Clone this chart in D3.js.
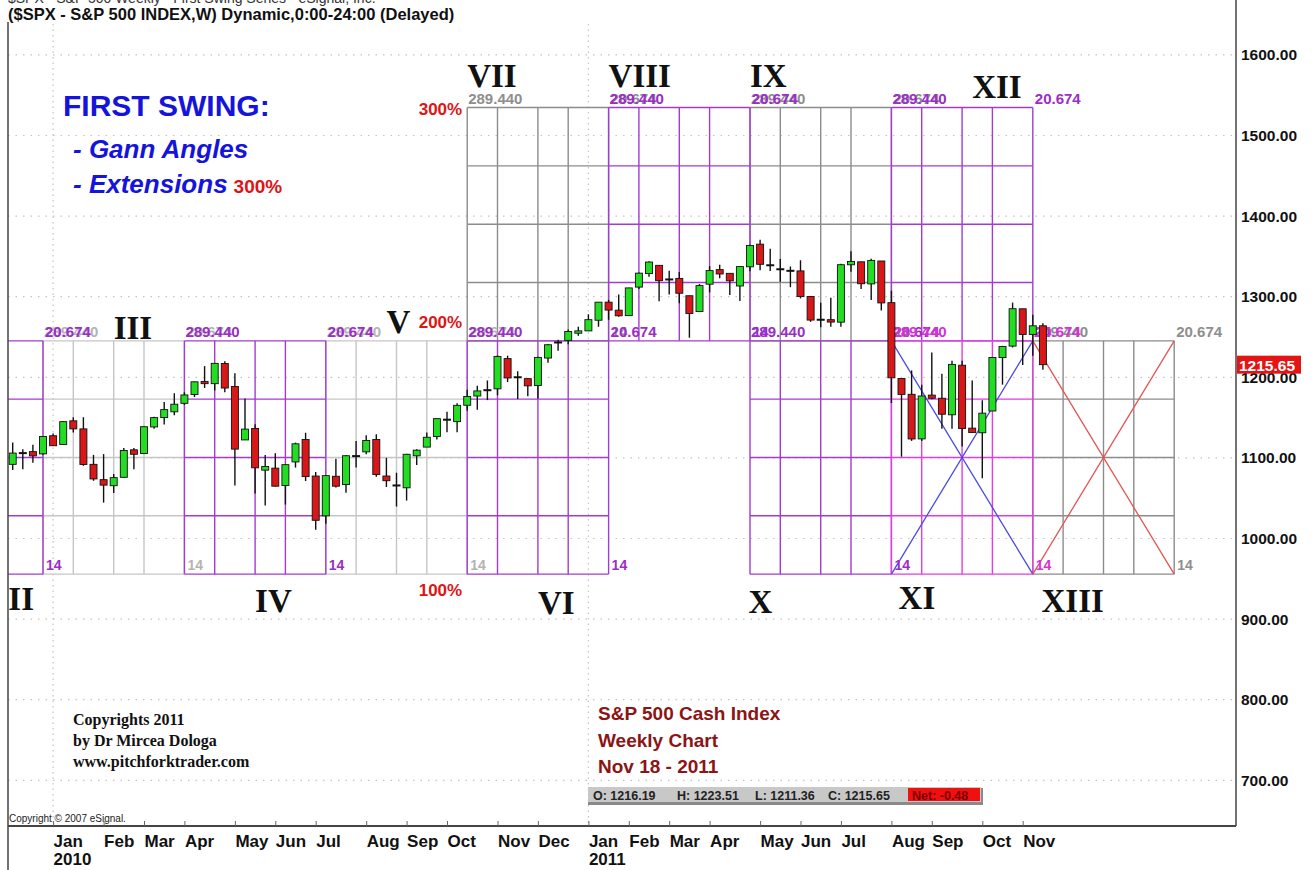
<!DOCTYPE html>
<html>
<head>
<meta charset="utf-8">
<title>S&amp;P 500 Weekly - First Swing</title>
<script src="https://cdnjs.cloudflare.com/ajax/libs/d3/7.8.5/d3.min.js"></script>
<style>
  html, body { margin: 0; padding: 0; background: #fff; }
  svg { display: block; }
  text { font-family: "Liberation Sans", Arial, sans-serif; }
  .serif { font-family: "Liberation Serif", "Times New Roman", serif; }
</style>
</head>
<body>
<svg id="chart" width="1313" height="870"></svg>
<script>
// --- DATA (weekly bars, dated by the Friday of each week) ---
const firstWeek = "2009-12-04";

const opens = [
  1092.0, 1105.5, 1107.8, 1105.0, 1127.5, 1116.6, 1146.0, 1136.0, 1092.0, 1073.0,
  1065.5, 1075.9, 1110.0, 1105.4, 1138.4, 1150.0, 1157.2, 1167.7, 1178.7, 1194.9,
  1192.1, 1217.1, 1188.6, 1122.3, 1136.5, 1084.8, 1087.3, 1065.8, 1095.0, 1122.8,
  1077.5, 1028.1, 1077.2, 1066.9, 1102.9, 1107.5, 1122.8, 1077.5, 1067.0, 1062.9,
  1102.6, 1113.4, 1126.6, 1148.6, 1145.0, 1165.3, 1176.8, 1184.7, 1185.7, 1223.2,
  1200.4, 1198.3, 1189.8, 1223.9, 1242.5, 1245.8, 1254.7, 1257.6, 1270.8, 1293.2,
  1283.3, 1276.5, 1311.9, 1328.7, 1338.9, 1321.6, 1322.7, 1301.2, 1281.7, 1315.5,
  1333.6, 1329.0, 1313.3, 1337.1, 1365.2, 1340.2, 1334.8, 1333.1, 1332.0, 1300.3,
  1271.3, 1271.5, 1268.4, 1339.6, 1343.3, 1315.9, 1344.3, 1292.6, 1198.5, 1178.9,
  1123.6, 1177.9, 1174.0, 1153.5, 1215.0, 1136.9, 1131.2, 1158.2, 1224.5, 1238.7,
  1285.0, 1253.2, 1263.9
];
const highs = [
  1119.1, 1110.7, 1116.2, 1126.5, 1130.4, 1145.4, 1150.4, 1150.5, 1103.7, 1104.7,
  1080.0, 1112.4, 1112.3, 1139.0, 1151.0, 1169.3, 1180.2, 1181.4, 1194.7, 1213.9,
  1217.3, 1219.8, 1205.1, 1173.6, 1141.9, 1103.5, 1105.7, 1092.0, 1119.0, 1131.2,
  1082.6, 1078.0, 1099.1, 1103.7, 1120.9, 1128.0, 1129.2, 1100.1, 1081.6, 1105.1,
  1110.6, 1131.5, 1148.9, 1157.2, 1167.7, 1184.4, 1189.4, 1196.1, 1227.1, 1226.8,
  1207.4, 1198.7, 1225.6, 1241.0, 1246.7, 1259.4, 1262.6, 1278.2, 1293.2, 1296.1,
  1302.7, 1311.0, 1330.0, 1344.1, 1338.9, 1332.3, 1330.6, 1301.2, 1315.8, 1337.9,
  1339.5, 1329.0, 1337.5, 1364.6, 1370.6, 1359.4, 1346.8, 1337.5, 1345.2, 1300.3,
  1292.5, 1298.6, 1341.0, 1356.5, 1343.3, 1347.0, 1344.3, 1307.4, 1198.5, 1208.5,
  1190.7, 1230.7, 1204.4, 1220.4, 1220.4, 1195.9, 1171.4, 1224.6, 1239.0, 1292.7,
  1285.0, 1277.6, 1267.0
];
const lows = [
  1085.0, 1085.9, 1093.9, 1104.0, 1114.8, 1116.6, 1131.4, 1090.2, 1071.6, 1044.5,
  1056.5, 1075.6, 1086.0, 1105.4, 1136.2, 1141.5, 1152.9, 1165.8, 1175.5, 1186.8,
  1183.5, 1181.6, 1065.8, 1122.3, 1055.9, 1040.8, 1064.5, 1042.2, 1088.0, 1071.3,
  1010.9, 1018.4, 1063.3, 1056.9, 1088.0, 1104.6, 1076.6, 1063.9, 1039.7, 1047.1,
  1091.2, 1113.4, 1122.8, 1131.9, 1131.9, 1158.4, 1159.7, 1171.7, 1177.7, 1194.1,
  1173.0, 1176.5, 1173.6, 1217.9, 1232.8, 1240.9, 1251.5, 1257.6, 1262.7, 1271.3,
  1275.1, 1276.5, 1309.4, 1324.6, 1294.3, 1302.6, 1292.0, 1249.1, 1281.7, 1305.3,
  1322.9, 1302.0, 1294.7, 1331.5, 1332.7, 1332.0, 1318.5, 1311.8, 1297.9, 1268.8,
  1262.0, 1262.7, 1262.7, 1331.0, 1309.7, 1295.9, 1282.9, 1168.1, 1101.5, 1121.1,
  1121.1, 1172.8, 1136.1, 1136.2, 1114.2, 1131.1, 1074.8, 1158.2, 1190.9, 1237.0,
  1215.4, 1226.6, 1209.4
];
const closes = [
  1106.0, 1106.4, 1102.5, 1126.5, 1115.1, 1145.0, 1136.0, 1091.8, 1073.9, 1066.2,
  1075.5, 1109.2, 1104.5, 1138.7, 1150.0, 1159.9, 1166.6, 1178.1, 1194.4, 1192.1,
  1217.3, 1186.7, 1110.9, 1135.7, 1087.7, 1089.4, 1064.9, 1091.6, 1117.5, 1076.8,
  1022.6, 1078.0, 1064.9, 1102.7, 1101.6, 1121.6, 1079.3, 1071.7, 1064.6, 1104.5,
  1109.6, 1125.6, 1148.7, 1146.2, 1165.2, 1176.2, 1183.1, 1183.3, 1225.9, 1199.2,
  1199.7, 1189.4, 1224.7, 1240.4, 1243.9, 1256.8, 1257.6, 1271.5, 1293.2, 1283.4,
  1276.3, 1310.9, 1329.2, 1343.0, 1319.9, 1321.2, 1304.3, 1279.2, 1313.8, 1332.4,
  1328.2, 1319.7, 1337.4, 1363.6, 1340.2, 1337.8, 1333.3, 1331.1, 1300.2, 1271.0,
  1271.5, 1268.5, 1339.7, 1343.8, 1316.1, 1345.0, 1292.3, 1199.4, 1178.8, 1123.5,
  1176.8, 1174.0, 1154.2, 1216.0, 1136.4, 1131.4, 1155.5, 1224.6, 1238.3, 1285.1,
  1253.2, 1263.9, 1215.65
];

const priceTicks = [700, 800, 900, 1000, 1100, 1200, 1300, 1400, 1500, 1600];
const lastPrice = 1215.65;
const lastDay = { O: "1216.19", H: "1223.51", L: "1211.36", C: "1215.65", Net: "-0.48" };

// first swing: price range and time span of one Gann box
const swingLow = 955.80;
const swingRange = 289.44;
const swingBars = 14;
const timeDivisions = [0, 3, 7, 10, 14];
const priceDivisions = [0, 0.25, 0.5, 0.75, 1];

// boxes: start bar, level (0 = 100-200%, 1 = 200-300%), tone
const gannBoxes = [
  { start: 3,   level: 0, tone: "light" },
  { start: 31,  level: 0, tone: "light" },
  { start: 101, level: 0, tone: "gray" },
  { start: 45,  level: 1, tone: "gray" },
  { start: 73,  level: 1, tone: "gray" },
  { start: -11, level: 0, tone: "purple" },
  { start: 17,  level: 0, tone: "purple" },
  { start: 45,  level: 0, tone: "purple" },
  { start: 73,  level: 0, tone: "purple" },
  { start: 59,  level: 1, tone: "purple" },
  { start: 87,  level: 1, tone: "purple" },
  { start: 87,  level: 0, tone: "magenta" }
];
const fanBoxes = [
  { start: 87,  level: 0, tone: "blue" },
  { start: 101, level: 0, tone: "red" }
];

// wave count, anchored on bar index and price
const romanLabels = [
  { text: "II",   bar: -0.3, price: 911 },
  { text: "III",  bar: 10.0, price: 1247 },
  { text: "IV",   bar: 24.0, price: 909 },
  { text: "V",    bar: 37.0, price: 1255 },
  { text: "VI",   bar: 52.0, price: 906 },
  { text: "VII",  bar: 45.1, price: 1560 },
  { text: "VIII", bar: 59.0, price: 1560 },
  { text: "IX",   bar: 73.0, price: 1560 },
  { text: "X",    bar: 72.9, price: 908 },
  { text: "XI",   bar: 87.8, price: 912 },
  { text: "XII",  bar: 95.0, price: 1546 },
  { text: "XIII", bar: 101.9, price: 909 }
];
const extensionLabels = ["100%", "200%", "300%"];

// --- STYLE ---
const lineColors = { light: "#c6c6c6", gray: "#8c8c8c", purple: "#a23cd0", magenta: "#e03ee0", blue: "#4b4be3", red: "#e45555" };
const textColors = { light: "#b4b4b4", gray: "#8e8e8e", purple: "#9a2ec6", magenta: "#d633d6" };
const plot = { left: 8, right: 1236, top: 24, bottom: 826 };

// --- SCALES ---
const svg = d3.select("#chart");
const start = new Date(firstWeek + "T00:00:00Z");
const barDate = i => d3.utcDay.offset(start, 7 * i);
const dates = closes.map((_, i) => barDate(i));

const x = d3.scaleUtc()
  .domain([dates[0], dates[dates.length - 1]])
  .range([12.7, 12.7 + 10.1 * (dates.length - 1)]);
const y = d3.scaleLinear().domain([700, 1600]).range([780.3, 54.9]);
const xb = i => x(barDate(i));

svg.append("defs").append("clipPath").attr("id", "clip")
  .append("rect")
  .attr("x", plot.left).attr("y", plot.top)
  .attr("width", plot.right - plot.left).attr("height", plot.bottom - plot.top);

const g = svg.append("g").attr("clip-path", "url(#clip)");

// --- GRID ---
g.selectAll(".hgrid").data(priceTicks).join("line")
  .attr("class", "hgrid")
  .attr("x1", plot.left).attr("x2", plot.right)
  .attr("y1", d => y(d)).attr("y2", d => y(d))
  .attr("stroke", "#c4c4c4").attr("stroke-width", 1.2)
  .attr("stroke-dasharray", "1.5,6");

const monthStarts = dates.filter((d, i) => i > 0 && d.getUTCMonth() !== dates[i - 1].getUTCMonth());
const yearStarts = monthStarts.filter(d => d.getUTCMonth() === 0);

g.selectAll(".vgrid").data(yearStarts).join("line")
  .attr("class", "vgrid")
  .attr("x1", d => x(d)).attr("x2", d => x(d))
  .attr("y1", plot.top).attr("y2", plot.bottom)
  .attr("stroke", "#c4c4c4").attr("stroke-width", 1.2)
  .attr("stroke-dasharray", "1.5,4");

// --- GANN BOXES ---
const fmt3 = d3.format(".3f");

function boxGeom(b) {
  const p0 = swingLow + b.level * swingRange;
  return { x0: xb(b.start), x1: xb(b.start + swingBars), p0: p0, yTop: y(p0 + swingRange), yBot: y(p0) };
}

gannBoxes.forEach(b => {
  const bx = boxGeom(b);
  const col = lineColors[b.tone];
  const bg = g.append("g");
  bg.selectAll("line.v").data(timeDivisions).join("line")
    .attr("x1", k => xb(b.start + k)).attr("x2", k => xb(b.start + k))
    .attr("y1", bx.yTop).attr("y2", bx.yBot)
    .attr("stroke", col).attr("stroke-width", 1.4);
  bg.selectAll("line.h").data(priceDivisions).join("line")
    .attr("x1", bx.x0).attr("x2", bx.x1)
    .attr("y1", f => y(bx.p0 + f * swingRange)).attr("y2", f => y(bx.p0 + f * swingRange))
    .attr("stroke", col).attr("stroke-width", 1.4);
});

fanBoxes.forEach(b => {
  const bx = boxGeom(b);
  g.append("path")
    .attr("d", `M${bx.x0},${bx.yTop}L${bx.x1},${bx.yBot}M${bx.x0},${bx.yBot}L${bx.x1},${bx.yTop}`)
    .attr("stroke", lineColors[b.tone]).attr("stroke-width", 1.3).attr("fill", "none");
});

// box labels: range at top-left, range per bar at top-right, bar count at bottom-right
gannBoxes.forEach(b => {
  const bx = boxGeom(b);
  const col = textColors[b.tone];
  const lg = g.append("g").attr("fill", col).style("font-weight", "bold");
  if (bx.x0 >= plot.left) {
    lg.append("text").attr("x", bx.x0 + 1).attr("y", bx.yTop - 4).style("font-size", "15px").text(fmt3(swingRange));
  }
  lg.append("text").attr("x", bx.x1 + 2).attr("y", bx.yTop - 4).style("font-size", "15px").text(fmt3(swingRange / swingBars));
  lg.append("text").attr("x", bx.x1 + 3).attr("y", bx.yBot - 4).style("font-size", "14px").text(swingBars);
});

// --- CANDLES ---
const bars = dates.map((d, i) => ({ d, o: opens[i], h: highs[i], l: lows[i], c: closes[i] }));
const cg = g.append("g");
cg.selectAll("line.wick").data(bars).join("line")
  .attr("class", "wick")
  .attr("x1", d => x(d.d)).attr("x2", d => x(d.d))
  .attr("y1", d => y(d.h)).attr("y2", d => y(d.l))
  .attr("stroke", "#111").attr("stroke-width", 1.4);

const isDoji = d => Math.abs(y(d.o) - y(d.c)) < 2;
cg.selectAll("rect.body").data(bars.filter(d => !isDoji(d))).join("rect")
  .attr("class", "body")
  .attr("x", d => x(d.d) - 3.5).attr("width", 7)
  .attr("y", d => y(Math.max(d.o, d.c)))
  .attr("height", d => Math.abs(y(d.o) - y(d.c)))
  .attr("fill", d => d.c >= d.o ? "#22dd22" : "#d81818")
  .attr("stroke", "#111").attr("stroke-width", 0.9);
cg.selectAll("line.doji").data(bars.filter(isDoji)).join("line")
  .attr("class", "doji")
  .attr("x1", d => x(d.d) - 4).attr("x2", d => x(d.d) + 4)
  .attr("y1", d => y((d.o + d.c) / 2)).attr("y2", d => y((d.o + d.c) / 2))
  .attr("stroke", "#111").attr("stroke-width", 2);

// --- ANNOTATIONS ---
svg.selectAll("text.roman").data(romanLabels).join("text")
  .attr("class", "roman serif")
  .attr("x", d => xb(d.bar)).attr("y", d => y(d.price))
  .style("font-size", "33px").style("font-weight", "bold").attr("fill", "#111")
  .text(d => d.text);

svg.selectAll("text.ext").data(extensionLabels).join("text")
  .attr("class", "ext")
  .attr("x", xb(45) - 5)
  .attr("y", (d, i) => y(swingLow + i * swingRange) + (i === 0 ? 22 : i === 1 ? -13 : 7))
  .attr("text-anchor", "end")
  .style("font-size", "17px").style("font-weight", "bold").attr("fill", "#e01414")
  .text(d => d);

svg.append("text").attr("x", 63).attr("y", 116)
  .style("font-size", "30px").style("font-weight", "bold").attr("fill", "#1414dc")
  .text("FIRST SWING:");
svg.append("text").attr("x", 73).attr("y", 158)
  .style("font-size", "26px").style("font-weight", "bold").style("font-style", "italic").attr("fill", "#1414dc")
  .text("- Gann Angles");
const ext = svg.append("text").attr("x", 73).attr("y", 193)
  .style("font-weight", "bold");
ext.append("tspan").style("font-size", "26px").style("font-style", "italic").attr("fill", "#1414dc").text("- Extensions");
ext.append("tspan").attr("dx", 6).style("font-size", "19px").attr("fill", "#e01414").text("300%");

const copy = svg.append("text").attr("class", "serif")
  .style("font-size", "16px").style("font-weight", "bold").attr("fill", "#111");
["Copyrights 2011", "by Dr Mircea Dologa", "www.pitchforktrader.com"].forEach((t, i) => {
  copy.append("tspan").attr("x", 73).attr("y", 725 + i * 21).text(t);
});

const note = svg.append("text")
  .style("font-size", "19px").style("font-weight", "bold").attr("fill", "#8c1414");
["S&P 500 Cash Index", "Weekly Chart", "Nov 18 - 2011"].forEach((t, i) => {
  note.append("tspan").attr("x", 598).attr("y", 720 + i * 26.5).text(t);
});

// OHLC strip
const strip = svg.append("g");
strip.append("rect").attr("x", 588).attr("y", 788).attr("width", 395).attr("height", 17).attr("fill", "#8a8a8a");
strip.append("rect").attr("x", 588).attr("y", 787).attr("width", 393).attr("height", 15).attr("fill", "#c8c8c8");
strip.append("rect").attr("x", 908).attr("y", 788).attr("width", 72).attr("height", 13).attr("fill", "#f01010");
[["O: " + lastDay.O, 593], ["H: " + lastDay.H, 677], ["L: " + lastDay.L, 755], ["C: " + lastDay.C, 828]].forEach(([t, px]) => {
  strip.append("text").attr("x", px).attr("y", 800).style("font-size", "12.5px").style("font-weight", "bold").attr("fill", "#222").text(t);
});
strip.append("text").attr("x", 912).attr("y", 800).style("font-size", "12.5px").style("font-weight", "bold").attr("fill", "#7a0000").text("Net: " + lastDay.Net);

svg.append("text").attr("x", 9).attr("y", 822).style("font-size", "10px").attr("fill", "#222")
  .text("Copyright \u00a9 2007 eSignal.");

// --- AXES ---
svg.append("line").attr("x1", plot.left).attr("x2", plot.left).attr("y1", 22).attr("y2", 870)
  .attr("stroke", "#444").attr("stroke-width", 1.5);
svg.append("line").attr("x1", plot.right).attr("x2", plot.right).attr("y1", 0).attr("y2", plot.bottom)
  .attr("stroke", "#444").attr("stroke-width", 1.5);

const yAxis = svg.append("g").attr("transform", `translate(${plot.right},0)`)
  .call(d3.axisRight(y).tickValues(priceTicks).tickSize(0).tickPadding(5).tickFormat(d3.format(".2f")));
yAxis.select(".domain").remove();
yAxis.selectAll("text").style("font-size", "15.5px").style("font-weight", "bold")
  .style("font-family", "'Liberation Sans', Arial, sans-serif").attr("fill", "#111");

// last price marker
svg.append("rect").attr("x", plot.right + 1).attr("y", y(lastPrice) - 9).attr("width", 64).attr("height", 18).attr("fill", "#e41414");
svg.append("text").attr("x", plot.right + 3).attr("y", y(lastPrice) + 6)
  .style("font-size", "15.5px").style("font-weight", "bold").attr("fill", "#fff").text(lastPrice.toFixed(2));

const xAxis = svg.append("g").attr("transform", `translate(0,${plot.bottom})`)
  .call(d3.axisBottom(x).tickValues(monthStarts).tickSizeInner(-5).tickSizeOuter(0).tickFormat(d3.utcFormat("%b")));
xAxis.select(".domain").attr("d", `M${plot.left},0H${plot.right}`).attr("stroke", "#444").attr("stroke-width", 2);
xAxis.selectAll(".tick line").attr("stroke", "#666");
xAxis.selectAll(".tick text")
  .attr("text-anchor", "start").attr("x", 0).attr("y", 21).attr("dy", null)
  .style("font-size", "17px").style("font-weight", "bold")
  .style("font-family", "'Liberation Sans', Arial, sans-serif").attr("fill", "#111");
xAxis.selectAll(".tick").filter(d => d.getUTCMonth() === 0)
  .append("text")
  .attr("text-anchor", "start")
  .attr("x", 0).attr("y", 39)
  .style("font-size", "17px").style("font-weight", "bold")
  .style("font-family", "'Liberation Sans', Arial, sans-serif").attr("fill", "#111")
  .text(d => d.getUTCFullYear());

// --- TITLE ---
svg.append("text").attr("x", 8).attr("y", 3).style("font-size", "14px").attr("fill", "#333")
  .text("$SPX - S&P 500 Weekly - First Swing Series - eSignal, Inc.");
svg.append("text").attr("x", 8).attr("y", 20).style("font-size", "16.5px").style("font-weight", "bold").attr("fill", "#111")
  .text("($SPX - S&P 500 INDEX,W) Dynamic,0:00-24:00 (Delayed)");
</script>
</body>
</html>
